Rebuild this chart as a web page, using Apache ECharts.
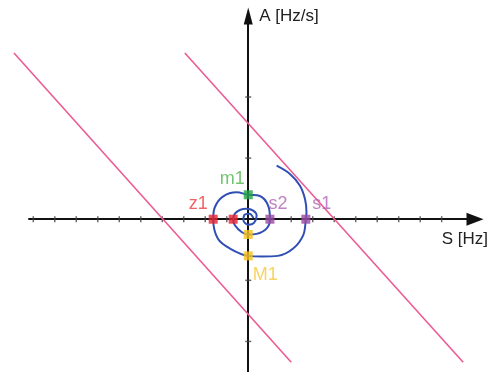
<!DOCTYPE html>
<html>
<head>
<meta charset="utf-8">
<script src="https://cdn.jsdelivr.net/npm/echarts@6/dist/echarts.min.js"></script>
<style>
  html, body { margin: 0; padding: 0; background: #fff; }
  #chart { width: 491px; height: 372px; }
</style>
</head>
<body>
<div id="chart"></div>
<script>
// Spiral trajectory in the (S, A) plane
const spiralS = [1.32, 1.94, 2.40, 2.64, 2.71, 2.68, 2.56, 2.09, 1.38, 0.64, 0, -0.85, -1.41, -1.63, -1.55, -1.18, -0.54, 0, 0.54, 0.93, 1.01, 0.86, 0.39, 0, -0.31, -0.62, -0.70, -0.62, -0.39, -0.07, 0.23, 0.39, 0.27, 0.01, -0.22, -0.18, 0.06, 0.24];
const spiralA = [0.875, 0.74, 0.55, 0.33, 0.12, 0, -0.26, -0.48, -0.60, -0.61, -0.60, -0.48, -0.32, 0, 0.20, 0.37, 0.44, 0.40, 0.38, 0.22, 0, -0.15, -0.24, -0.25, -0.21, -0.10, 0, 0.09, 0.15, 0.17, 0.14, 0.06, -0.06, -0.09, -0.02, 0.07, 0.09, 0.02];

// Boundary lines (endpoints)
const leftLineS = [-10.9, 2.0];
const leftLineA = [2.72, -2.34];
const rightLineS = [-2.95, 10.0];
const rightLineA = [2.72, -2.34];

// Crossings of the spiral with the S axis
const zS = [-1.63, -0.70];
const zLabels = ['z1', ''];
const sS = [1.01, 2.68];
const sLabels = ['s2', 's1'];
// Crossings with the A axis
const mA = [0.40];
const mLabels = ['m1'];
const MA = [-0.25, -0.60];
const MLabels = ['', 'M1'];

// Axis tick positions
const sTicks = [-10, -9, -8, -7, -6, -5, -4, -3, -2, -1, 1, 2, 3, 4, 5, 6, 7, 8, 9];
const aTicks = [-2, -1, 1, 2];

const FONT = '"Liberation Sans", Arial, sans-serif';

// Shared scale: the visible axes span S in [-10.2, 10.55], A in [-2.5, 3.325];
// a second, invisible grid with the same scale reaches further left so the
// boundary lines can run past the start of the S axis.
const S_MIN = -10.2, S_MAX = 10.55, A_MIN = -2.5, A_MAX = 3.325;
const LEFT = 29, RIGHT = 16, TOP = 16, BOTTOM = -2;
const W = 491, PX_PER_S = (W - LEFT - RIGHT) / (S_MAX - S_MIN);
const S_MIN_WIDE = -11.5;
const LEFT_WIDE = LEFT - (S_MIN - S_MIN_WIDE) * PX_PER_S;

function pairs(xs, ys) { return xs.map((x, i) => [x, ys[i]]); }

function pointSeries(data, labels, color, labelColor, offsets) {
  return {
    type: 'scatter',
    symbol: 'rect',
    symbolSize: 9,
    z: 10,
    itemStyle: { color: color },
    data: data.map((d, i) => ({
      value: d,
      label: {
        show: labels[i] !== '',
        formatter: labels[i],
        position: 'inside',
        offset: offsets[i],
        color: labelColor,
        fontFamily: FONT,
        fontSize: 18
      }
    }))
  };
}

const hiddenAxis = {
  type: 'value',
  show: false,
  axisLine: { show: false },
  axisTick: { show: false },
  axisLabel: { show: false },
  splitLine: { show: false }
};

const chart = echarts.init(document.getElementById('chart'), null, { renderer: 'canvas' });

chart.setOption({
  animation: false,
  backgroundColor: '#ffffff',
  grid: [
    { left: LEFT, right: RIGHT, top: TOP, bottom: BOTTOM },
    { left: LEFT_WIDE, right: RIGHT, top: TOP, bottom: BOTTOM }
  ],
  xAxis: [{
    type: 'value',
    gridIndex: 0,
    min: S_MIN,
    max: S_MAX,
    name: 'S [Hz]',
    nameLocation: 'end',
    nameGap: 13,
    nameTextStyle: {
      color: '#222', fontFamily: FONT, fontSize: 17,
      align: 'right', verticalAlign: 'top', padding: [12, 0, 0, 0]
    },
    axisLine: {
      onZero: true,
      symbol: ['none', 'triangle'],
      symbolSize: [13, 17],
      lineStyle: { color: '#111', width: 2 }
    },
    axisTick: { show: false },
    axisLabel: { show: false },
    splitLine: { show: false }
  }, Object.assign({}, hiddenAxis, { gridIndex: 1, min: S_MIN_WIDE, max: S_MAX })],
  yAxis: [{
    type: 'value',
    gridIndex: 0,
    min: A_MIN,
    max: A_MAX,
    name: 'A [Hz/s]',
    nameLocation: 'end',
    nameGap: -9,
    nameTextStyle: {
      color: '#222', fontFamily: FONT, fontSize: 17,
      align: 'left', verticalAlign: 'bottom', padding: [0, 0, 0, 11]
    },
    axisLine: {
      onZero: true,
      symbol: ['none', 'triangle'],
      symbolSize: [9, 17],
      lineStyle: { color: '#111', width: 2 }
    },
    axisTick: { show: false },
    axisLabel: { show: false },
    splitLine: { show: false }
  }, Object.assign({}, hiddenAxis, { gridIndex: 1, min: A_MIN, max: A_MAX })],
  series: [
    {
      type: 'scatter',
      symbol: 'rect',
      symbolSize: [1.5, 6],
      itemStyle: { color: '#444' },
      z: 3,
      data: sTicks.map(v => [v, 0])
    },
    {
      type: 'scatter',
      symbol: 'rect',
      symbolSize: [6, 1.5],
      itemStyle: { color: '#444' },
      z: 3,
      data: aTicks.map(v => [0, v])
    },
    {
      type: 'line',
      xAxisIndex: 1,
      yAxisIndex: 1,
      showSymbol: false,
      z: 4,
      lineStyle: { color: '#ec5b94', width: 1.6 },
      data: pairs(leftLineS, leftLineA)
    },
    {
      type: 'line',
      xAxisIndex: 1,
      yAxisIndex: 1,
      showSymbol: false,
      z: 4,
      lineStyle: { color: '#ec5b94', width: 1.6 },
      data: pairs(rightLineS, rightLineA)
    },
    {
      type: 'line',
      showSymbol: false,
      smooth: 0.35,
      z: 5,
      lineStyle: { color: '#2f4fb4', width: 2 },
      data: pairs(spiralS, spiralA)
    },
    pointSeries(zS.map(v => [v, 0]), zLabels, '#e8222e', '#ef3b40', [[-15, -15], [0, 0]]),
    pointSeries(sS.map(v => [v, 0]), sLabels, '#9a4aa0', '#b163b5', [[8, -15], [16, -15]]),
    pointSeries(mA.map(v => [0, v]), mLabels, '#22a345', '#4fb74a', [[-16, -16]]),
    pointSeries(MA.map(v => [0, v]), MLabels, '#f7c21c', '#f7c83a', [[0, 0], [17, 19]])
  ]
});
</script>
</body>
</html>
